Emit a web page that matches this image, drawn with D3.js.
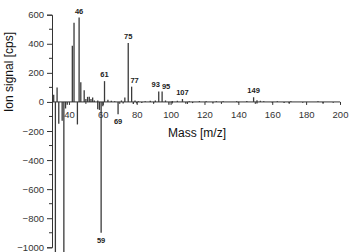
<!DOCTYPE html>
<html><head><meta charset="utf-8">
<script src="https://cdn.jsdelivr.net/npm/d3@7"></script>
<style>body{margin:0;background:#fff}svg{display:block}</style>
</head><body>
<script>
// Positive spectrum (mass, ion signal)
const posMass = [31,33,42,43,46,47,49,50,51,52,53,54,55,57,61,63,65,67,71,73,75,77,79,81,85,88,91,93,95,97,101,104,107,111,117,121,127,131,139,145,149,151,153,155,163,171,187];
const posVal  = [50,100,387,545,580,136,80,20,35,35,20,30,10,10,143,15,8,5,10,30,405,105,10,5,5,8,10,72,72,10,6,8,20,5,6,4,5,5,5,6,32,12,8,5,4,4,5];
// Negative spectrum
const negMass = [32,34,36,37,38,39,45,57,58,59,60,69,72,78,80,83,90,99,101,109,113,125,140,151,160,167,170,178,190,196];
const negVal  = [-1060,-150,-130,-1060,-45,-20,-155,-50,-55,-900,-30,-85,-10,-15,-10,-8,-5,-20,-10,-12,-8,-10,-5,-10,-5,-8,-8,-5,-8,-6];
// Peak labels
const labMass = [46,61,75,77,93,95,107,149,69,59];
const labText = ["46","61","75","77","93","95","107","149","69","59"];
const labVal  = [580,143,405,105,72,72,20,32,-85,-900];
const xTicks = [40,60,80,100,120,140,160,180,200];
const yTicks = [600,400,200,0,-200,-400,-600,-800,-1000];

const W=349,H=252;
const svg=d3.select("body").append("svg").attr("width",W).attr("height",H);
const x=d3.scaleLinear().domain([30,200]).range([52,340]);
const y=d3.scaleLinear().domain([-1000,600]).range([247.3,14.7]);
const font="Arial, 'Liberation Sans', sans-serif";
const col="#333";

// Bars
const bars = posMass.map((m,i)=>({m,v:posVal[i]})).concat(negMass.map((m,i)=>({m,v:negVal[i]})));
svg.append("g").selectAll("line").data(bars).join("line")
  .attr("x1",d=>x(d.m)).attr("x2",d=>x(d.m))
  .attr("y1",y(0)).attr("y2",d=>y(d.v))
  .attr("stroke","#3a3a3a").attr("stroke-width",1.3);

// Y axis
const yAxis=d3.axisLeft(y).tickValues(yTicks).tickSize(5).tickPadding(3).tickFormat(d3.format("d"));
const gy=svg.append("g").attr("transform","translate(52,0)").call(yAxis);
gy.select(".domain").attr("stroke",col);
gy.selectAll(".tick line").attr("stroke",col);
gy.selectAll("text").attr("font-family",font).attr("font-size",9.5).attr("fill",col);
const yMinor=d3.range(-900,600,200);
svg.append("g").selectAll("line").data(yMinor).join("line")
  .attr("x1",49).attr("x2",52).attr("y1",d=>y(d)).attr("y2",d=>y(d)).attr("stroke",col);

// X axis at zero line
const xAxis=d3.axisBottom(x).tickValues(xTicks).tickSize(3).tickPadding(6).tickFormat(d3.format("d"));
const gx=svg.append("g").attr("transform",`translate(0,${y(0)})`).call(xAxis);
gx.select(".domain").attr("d",`M${x(30)},0H${x(200)}`).attr("stroke",col);
gx.selectAll(".tick line").attr("stroke",col);
gx.selectAll("text").attr("font-family",font).attr("font-size",9.5).attr("fill",col);
const xMinor=d3.range(50,200,20);
svg.append("g").selectAll("line").data(xMinor).join("line")
  .attr("x1",d=>x(d)).attr("x2",d=>x(d)).attr("y1",y(0)).attr("y2",y(0)+2).attr("stroke",col);

// Peak labels (small nudges keep neighbouring labels apart)
const nudge={"93":[-3,0],"95":[4,2],"77":[3,0]};
svg.append("g").selectAll("text").data(labMass.map((m,i)=>({m,t:labText[i],v:labVal[i]}))).join("text")
  .attr("x",d=>x(d.m)+(nudge[d.t]?nudge[d.t][0]:0))
  .attr("y",d=>(d.v>=0?y(d.v)-4:y(d.v)+10)+(nudge[d.t]?nudge[d.t][1]:0))
  .attr("text-anchor","middle").attr("font-family",font).attr("font-weight","bold")
  .attr("font-size",7.5).attr("fill","#222").text(d=>d.t);

// Axis titles
svg.append("text").attr("x",197).attr("y",137).attr("text-anchor","middle")
  .attr("font-family",font).attr("font-size",12).attr("fill","#111").text("Mass [m/z]");
svg.append("text").attr("transform","translate(13,72) rotate(-90)").attr("text-anchor","middle")
  .attr("font-family",font).attr("font-size",12).attr("fill","#111").text("Ion signal [cps]");
</script>
</body></html>
